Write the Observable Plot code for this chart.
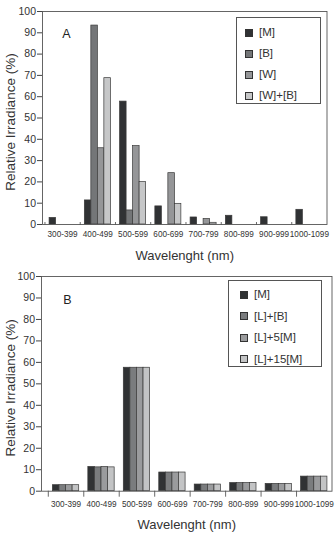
<!DOCTYPE html>
<html>
<head>
<meta charset="utf-8">
<script src="https://cdn.jsdelivr.net/npm/d3@7"></script>
<script src="https://cdn.jsdelivr.net/npm/@observablehq/plot@0.6"></script>
<style>
  html, body { margin: 0; padding: 0; background: #fff; }
  #root { position: relative; width: 335px; height: 535px; background: #fff; font-family: "Liberation Sans", Arial, sans-serif; color: #333; }
  .panel { position: absolute; left: 0; }
  .overlay { pointer-events: none; }
  .legend { position: absolute; box-sizing: border-box; border: 1px solid #555; background: #fff; padding-top: 4px; }
  .legend .row { height: 21px; line-height: 21px; font-size: 11.5px; color: #333; white-space: nowrap; display: flex; align-items: center; }
  .legend .sw { display: inline-block; width: 6px; height: 6px; border: 0.8px solid #333; margin-right: 6px; flex: none; }
</style>
</head>
<body>
<div id="root"></div>
<script>
// Wavelength bands (nm)
const categories = ["300-399", "400-499", "500-599", "600-699", "700-799", "800-899", "900-999", "1000-1099"];
const yTicks = [0, 10, 20, 30, 40, 50, 60, 70, 80, 90, 100];
const yTitle = "Relative Irradiance (%)";
const xTitle = "Wavelenght (nm)";

// Panel A: relative irradiance per band for each lamp
const seriesA = ["[M]", "[B]", "[W]", "[W]+[B]"];
const aM  = [3.1, 11.3, 57.7, 8.5, 3.3, 4.1, 3.4, 6.9];
const aB  = [0, 93.4, 6.6, 0, 0, 0, 0, 0];
const aW  = [0, 35.8, 36.8, 24.1, 2.6, 0, 0, 0];
const aWB = [0, 68.7, 19.9, 9.7, 0.8, 0, 0, 0];
const colorsA = ["#303234", "#747678", "#959698", "#c6c7c8"];

// Panel B: relative irradiance per band for each combination
const seriesB = ["[M]", "[L]+[B]", "[L]+5[M]", "[L]+15[M]"];
const bM    = [2.8, 11.3, 57.5, 8.7, 3.1, 3.8, 3.4, 6.8];
const bLB   = [2.8, 11.1, 57.5, 8.7, 3.1, 3.8, 3.4, 6.8];
const bL5M  = [2.8, 11.3, 57.5, 8.7, 3.1, 3.8, 3.4, 6.8];
const bL15M = [2.8, 11.1, 57.5, 8.7, 3.1, 3.8, 3.4, 6.8];
const colorsB = ["#303234", "#7a7c7e", "#9a9b9d", "#c3c4c5"];

const font = "'Liberation Sans', Arial, sans-serif";

function rowsOf(series, values) {
  const rows = [];
  categories.forEach((c, i) => series.forEach((s, j) => rows.push({category: c, series: s, value: values[j][i]})));
  return rows;
}

// Grouped bars: one facet per wavelength band, one bar per series inside it
function bars(o) {
  const rows = rowsOf(o.series, o.values);
  const plotH = o.height - o.mt - o.mb;
  return Plot.plot({
    width: 335, height: o.height,
    marginTop: o.mt, marginBottom: o.mb, marginLeft: o.ml, marginRight: o.mr,
    style: {fontFamily: font, color: "#333", background: "#fff", overflow: "visible"},
    fx: {domain: categories, paddingInner: 0, paddingOuter: o.fxOuter, align: 1, round: false, label: null, axis: null},
    x: {domain: o.series, paddingInner: 0, paddingOuter: o.xOuter, round: false, axis: null},
    y: {domain: [0, 100], axis: null},
    color: {domain: o.series, range: o.colors},
    marks: [
      Plot.barY(rows, {fx: "category", x: "series", y: "value", fill: "series",
        stroke: "#383838", strokeWidth: 0.7, filter: d => d.value > 0}),
      // short ticks on the band boundaries
      Plot.frame({anchor: "left", insetTop: plotH - o.tickUp, insetBottom: -o.tickDown, stroke: "#444", strokeWidth: 0.8}),
      Plot.axisFx({anchor: "bottom", tickSize: 0, tickPadding: o.fxPad, fontSize: 8.2, label: null})
    ]
  });
}

// Frame, y axis and titles drawn over the bars with the same margins
function chrome(o) {
  return Plot.plot({
    width: 335, height: o.height,
    marginTop: o.mt, marginBottom: o.mb, marginLeft: o.ml, marginRight: o.mr,
    style: {fontFamily: font, color: "#333", background: "transparent", overflow: "visible"},
    y: {domain: [0, 100], axis: null},
    marks: [
      Plot.frame({stroke: "#555", strokeWidth: 0.9}),
      Plot.axisY({ticks: yTicks, tickSize: 5, tickPadding: 1.5, fontSize: 10.5, label: null, stroke: "#444"}),
      Plot.text([yTitle], {text: d => d, frameAnchor: "left", dx: o.yTitleDx, dy: 4,
        textAnchor: "middle", lineAnchor: "middle", rotate: -90, fontSize: 13.5, fill: "#333"}),
      Plot.text([xTitle], {text: d => d, frameAnchor: "bottom", dy: o.xTitleDy,
        textAnchor: "middle", lineAnchor: "middle", fontSize: 13, fill: "#333"}),
      Plot.text([o.letter], {text: d => d, frameAnchor: "top-left", dx: o.letterDx, dy: o.letterDy,
        textAnchor: "middle", lineAnchor: "middle", fontSize: 12.5, fill: "#222"})
    ]
  });
}

function legend(series, colors, box) {
  const div = document.createElement("div");
  div.className = "legend";
  Object.assign(div.style, {left: box.left + "px", top: box.top + "px", width: box.width + "px", height: box.height + "px", paddingLeft: box.pad + "px", paddingTop: box.padTop + "px"});
  series.forEach((s, i) => {
    const row = document.createElement("div");
    row.className = "row";
    row.style.height = box.row + "px";
    row.style.lineHeight = box.row + "px";
    const sw = document.createElement("span");
    sw.className = "sw";
    sw.style.background = colors[i];
    const t = document.createElement("span");
    t.textContent = s;
    row.append(sw, t);
    div.append(row);
  });
  return div;
}

const root = document.getElementById("root");

const optsA = {
  letter: "A", series: seriesA, values: [aM, aB, aW, aWB], colors: colorsA,
  height: 266, mt: 11, mb: 42, ml: 42, mr: 8.5,
  fxOuter: 0.035, xOuter: 0.71, fxPad: 6.5, tickUp: 2, tickDown: 0,
  yTitleDx: -32, xTitleDy: 31, letterDx: 24, letterDy: 22
};
const optsB = {
  letter: "B", series: seriesB, values: [bM, bLB, bL5M, bL15M], colors: colorsB,
  height: 269, mt: 10, mb: 44.3, ml: 41, mr: 3.5,
  fxOuter: 0.096, xOuter: 0.695, fxPad: 10, tickUp: 0, tickDown: 5,
  yTitleDx: -31, xTitleDy: 33.6, letterDx: 26, letterDy: 23
};

for (const [o, top] of [[optsA, 0], [optsB, 266]]) {
  const b = bars(o);
  b.classList.add("panel");
  b.style.top = top + "px";
  const c = chrome(o);
  c.classList.add("panel", "overlay");
  c.style.top = top + "px";
  root.append(b, c);
}

root.append(legend(seriesA, colorsA, {left: 236, top: 17, width: 85, height: 87, pad: 8, padTop: 4, row: 21}));
root.append(legend(seriesB, colorsB, {left: 228, top: 280, width: 94, height: 87, pad: 11, padTop: 3, row: 21.5}));
</script>
</body>
</html>
